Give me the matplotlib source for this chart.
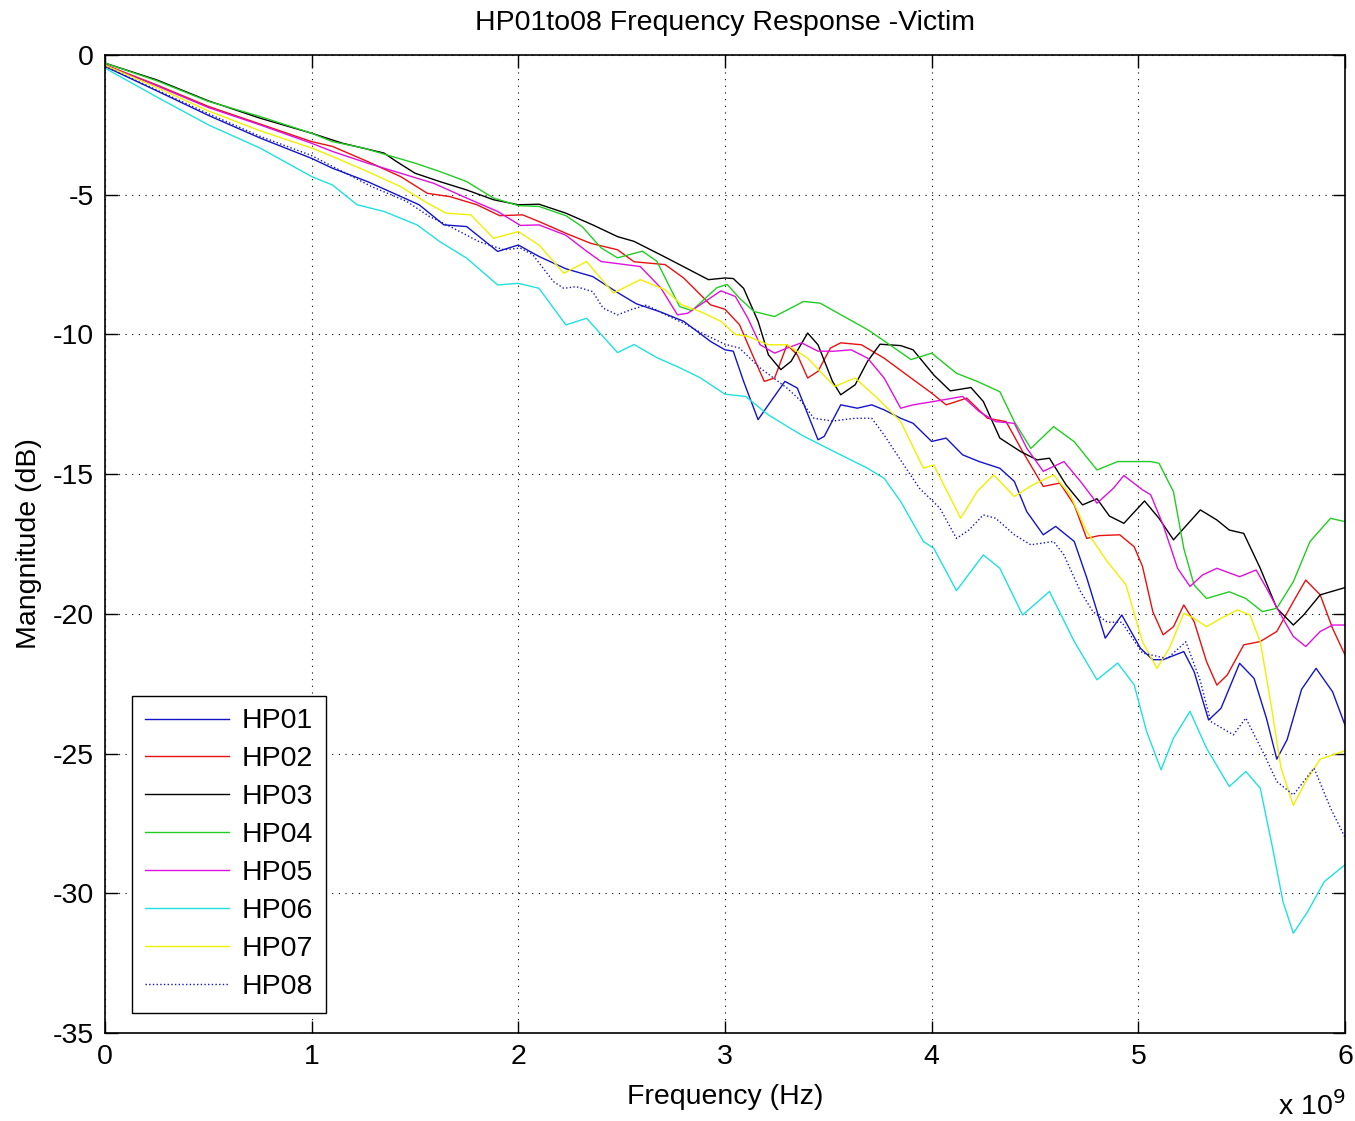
import matplotlib
matplotlib.use("Agg")
import matplotlib.pyplot as plt

plt.rcParams['font.family'] = ['Liberation Sans', 'DejaVu Sans']
plt.rcParams['axes.unicode_minus'] = False

# frequencies in GHz, magnitudes in dB
f_hp01 = [0, 0.25, 0.5, 0.75, 1.0, 1.1, 1.27, 1.43, 1.52, 1.64, 1.75, 1.9, 2.0, 2.1, 2.23, 2.36, 2.48,
          2.57, 2.69, 2.8, 2.93, 3.0, 3.04, 3.09, 3.16, 3.21, 3.29, 3.35, 3.45, 3.48, 3.56, 3.64, 3.71,
          3.77, 3.85, 3.91, 4.0, 4.07, 4.15, 4.23, 4.33, 4.4, 4.46, 4.54, 4.6, 4.69, 4.75, 4.84, 4.92,
          5.01, 5.07, 5.12, 5.22, 5.27, 5.34, 5.4, 5.49, 5.56, 5.62, 5.67, 5.72, 5.79, 5.86, 5.94, 6.0]
m_hp01 = [-0.41, -1.28, -2.16, -2.97, -3.7, -4.05, -4.53, -5.06, -5.36, -6.08, -6.14, -7.03, -6.8, -7.21,
          -7.65, -7.93, -8.5, -8.9, -9.2, -9.53, -10.25, -10.55, -10.6, -11.68, -13.05, -12.52, -11.68,
          -11.92, -13.77, -13.65, -12.52, -12.64, -12.52, -12.7, -13.0, -13.18, -13.83, -13.71, -14.31,
          -14.55, -14.79, -15.26, -16.34, -17.17, -16.87, -17.41, -18.7, -20.87, -20.04, -21.23, -21.64,
          -21.64, -21.35, -22.07, -23.8, -23.38, -21.77, -22.31, -23.74, -25.2, -24.5, -22.7, -21.95,
          -22.79, -23.98]

f_hp02 = [0, 0.25, 0.5, 0.75, 1.0, 1.1, 1.27, 1.43, 1.56, 1.67, 1.8, 1.91, 2.02, 2.1, 2.23, 2.35, 2.48,
          2.56, 2.71, 2.8, 2.93, 3.0, 3.07, 3.14, 3.19, 3.24, 3.3, 3.35, 3.4, 3.45, 3.51, 3.56, 3.66,
          3.77, 3.9, 4.0, 4.07, 4.17, 4.27, 4.36, 4.44, 4.54, 4.62, 4.69, 4.75, 4.81, 4.91, 4.98, 5.02,
          5.07, 5.12, 5.17, 5.22, 5.27, 5.33, 5.38, 5.43, 5.51, 5.59, 5.67, 5.75, 5.81, 5.88, 5.94, 6.0]
m_hp02 = [-0.35, -1.07, -1.84, -2.47, -3.1, -3.27, -3.81, -4.35, -4.95, -5.07, -5.36, -5.75, -5.72, -5.96,
          -6.38, -6.74, -6.97, -7.4, -7.5, -7.98, -8.94, -9.1, -9.65, -10.85, -11.68, -11.56, -10.37,
          -10.73, -11.56, -11.32, -10.49, -10.3, -10.37, -10.85, -11.56, -12.1, -12.52, -12.28, -13.0,
          -13.12, -14.19, -15.44, -15.32, -16.1, -17.3, -17.2, -17.17, -17.6, -18.3, -19.92, -20.75,
          -20.46, -19.68, -20.28, -21.71, -22.55, -22.19, -21.11, -20.99, -20.63, -19.56, -18.79,
          -19.32, -20.52, -21.47]

f_hp03 = [0, 0.25, 0.5, 0.75, 1.0, 1.15, 1.35, 1.41, 1.5, 1.62, 1.75, 1.88, 2.0, 2.1, 2.23, 2.36, 2.48,
          2.56, 2.72, 2.92, 3.0, 3.04, 3.09, 3.16, 3.21, 3.27, 3.32, 3.4, 3.45, 3.52, 3.56, 3.63, 3.69,
          3.75, 3.85, 3.91, 4.01, 4.09, 4.19, 4.25, 4.33, 4.43, 4.51, 4.57, 4.65, 4.73, 4.8, 4.86, 4.93,
          5.03, 5.1, 5.17, 5.3, 5.38, 5.44, 5.51, 5.59, 5.67, 5.75, 5.8, 5.88, 6.0]
m_hp03 = [-0.29, -0.89, -1.64, -2.26, -2.8, -3.16, -3.51, -3.81, -4.23, -4.53, -4.83, -5.18, -5.36, -5.34,
          -5.66, -6.08, -6.5, -6.67, -7.27, -8.04, -7.98, -8.0, -8.35, -9.53, -10.73, -11.26, -10.96,
          -9.95, -10.37, -11.68, -12.16, -11.8, -10.96, -10.35, -10.4, -10.55, -11.45, -12.02, -11.9,
          -12.4, -13.71, -14.19, -14.49, -14.43, -15.38, -16.1, -15.88, -16.5, -16.76, -15.96, -16.58,
          -17.35, -16.28, -16.64, -17.0, -17.12, -18.37, -19.8, -20.4, -20.04, -19.32, -19.06]

f_hp04 = [0, 0.25, 0.5, 0.75, 1.0, 1.1, 1.25, 1.5, 1.62, 1.75, 1.88, 2.0, 2.1, 2.23, 2.31, 2.4, 2.48,
          2.6, 2.67, 2.78, 2.84, 2.96, 3.01, 3.07, 3.14, 3.24, 3.38, 3.46, 3.61, 3.69, 3.75, 3.9, 4.0,
          4.12, 4.22, 4.33, 4.4, 4.48, 4.59, 4.69, 4.8, 4.9, 5.06, 5.1, 5.17, 5.22, 5.27, 5.33, 5.44,
          5.52, 5.6, 5.67, 5.75, 5.83, 5.93, 6.0]
m_hp04 = [-0.29, -0.92, -1.66, -2.2, -2.8, -3.1, -3.33, -3.87, -4.17, -4.53, -5.12, -5.39, -5.42, -5.75,
          -6.15, -6.9, -7.26, -7.02, -7.38, -9.0, -9.15, -8.33, -8.21, -8.7, -9.18, -9.36, -8.82, -8.88,
          -9.5, -9.83, -10.13, -10.9, -10.67, -11.39, -11.68, -12.05, -13.12, -14.08, -13.3, -13.84,
          -14.85, -14.55, -14.55, -14.61, -15.63, -17.66, -18.97, -19.45, -19.21, -19.45, -19.92,
          -19.8, -18.85, -17.42, -16.58, -16.7]

f_hp05 = [0, 0.25, 0.5, 0.75, 1.0, 1.1, 1.27, 1.43, 1.59, 1.75, 1.9, 2.01, 2.1, 2.23, 2.33, 2.4, 2.59,
          2.69, 2.77, 2.82, 2.88, 2.98, 3.05, 3.11, 3.17, 3.24, 3.3, 3.37, 3.45, 3.53, 3.61, 3.69, 3.77,
          3.85, 3.91, 4.01, 4.15, 4.23, 4.31, 4.4, 4.46, 4.54, 4.64, 4.72, 4.8, 4.88, 4.93, 5.02, 5.06,
          5.12, 5.19, 5.25, 5.31, 5.38, 5.49, 5.57, 5.62, 5.69, 5.75, 5.81, 5.88, 5.94, 6.0]
m_hp05 = [-0.37, -1.1, -1.88, -2.5, -3.16, -3.45, -3.87, -4.23, -4.59, -5.12, -5.6, -6.1, -6.08, -6.45,
          -7.02, -7.39, -7.57, -8.34, -9.3, -9.24, -8.94, -8.44, -8.64, -9.41, -10.37, -10.67, -10.49,
          -10.3, -10.6, -10.6, -10.55, -10.85, -11.56, -12.64, -12.52, -12.4, -12.22, -12.76, -13.12,
          -13.18, -14.07, -14.9, -14.55, -15.26, -16.04, -15.5, -15.05, -15.56, -15.74, -16.82, -18.37,
          -19.02, -18.61, -18.37, -18.67, -18.43, -19.08, -20.04, -20.81, -21.17, -20.63, -20.4, -20.4]

f_hp06 = [0, 0.25, 0.5, 0.75, 1.0, 1.1, 1.22, 1.35, 1.51, 1.62, 1.75, 1.9, 2.0, 2.1, 2.23, 2.33, 2.48,
          2.56, 2.67, 2.78, 2.88, 3.0, 3.1, 3.21, 3.37, 3.53, 3.69, 3.77, 3.85, 3.96, 4.01, 4.12, 4.25,
          4.33, 4.44, 4.57, 4.69, 4.8, 4.9, 4.98, 5.04, 5.11, 5.17, 5.25, 5.33, 5.44, 5.52, 5.59, 5.65,
          5.7, 5.75, 5.82, 5.9, 6.0]
m_hp06 = [-0.47, -1.5, -2.5, -3.33, -4.35, -4.65, -5.36, -5.6, -6.08, -6.68, -7.27, -8.23, -8.17, -8.35,
          -9.66, -9.42, -10.65, -10.36, -10.83, -11.19, -11.55, -12.14, -12.22, -12.88, -13.6, -14.2,
          -14.79, -15.15, -15.98, -17.41, -17.65, -19.17, -17.89, -18.37, -20.04, -19.2, -20.99, -22.36,
          -21.76, -22.54, -24.21, -25.58, -24.45, -23.49, -24.81, -26.18, -25.64, -26.24, -28.39, -30.3,
          -31.43, -30.65, -29.58, -28.98]

f_hp07 = [0, 0.25, 0.5, 0.75, 1.0, 1.1, 1.27, 1.43, 1.56, 1.65, 1.77, 1.88, 2.0, 2.1, 2.22, 2.33, 2.46,
          2.59, 2.71, 2.79, 2.88, 2.98, 3.05, 3.11, 3.21, 3.3, 3.4, 3.53, 3.63, 3.74, 3.85, 3.96, 4.01,
          4.14, 4.22, 4.3, 4.4, 4.49, 4.59, 4.67, 4.75, 4.85, 4.94, 5.02, 5.09, 5.15, 5.22, 5.27, 5.33,
          5.4, 5.48, 5.54, 5.59, 5.64, 5.69, 5.75, 5.81, 5.88, 6.0]
m_hp07 = [-0.37, -1.16, -2.0, -2.71, -3.33, -3.63, -4.17, -4.71, -5.3, -5.66, -5.72, -6.56, -6.32, -6.8,
          -7.81, -7.39, -8.52, -8.04, -8.4, -8.94, -9.18, -9.53, -10.0, -10.07, -10.37, -10.37, -10.85,
          -11.86, -11.56, -12.3, -13.12, -14.79, -14.67, -16.58, -15.62, -15.03, -15.8, -15.38, -15.03,
          -15.74, -17.05, -18.13, -18.96, -21.0, -21.95, -21.23, -19.98, -20.16, -20.46, -20.16, -19.86,
          -20.04, -20.99, -23.14, -25.5, -26.85, -26.0, -25.2, -24.9]

f_hp08 = [0, 0.25, 0.5, 0.75, 1.0, 1.29, 1.46, 1.57, 1.67, 1.81, 1.93, 2.01, 2.07, 2.17, 2.22, 2.28,
          2.36, 2.41, 2.48, 2.55, 2.62, 2.7, 2.8, 2.9, 3.0, 3.07, 3.17, 3.3, 3.37, 3.43, 3.52, 3.63, 3.71,
          3.77, 3.85, 3.94, 4.04, 4.12, 4.18, 4.25, 4.31, 4.4, 4.48, 4.59, 4.64, 4.72, 4.78, 4.85, 4.92,
          5.02, 5.14, 5.23, 5.3, 5.35, 5.46, 5.52, 5.61, 5.67, 5.75, 5.85, 5.93, 6.0]
m_hp08 = [-0.41, -1.25, -2.1, -2.91, -3.6, -4.71, -5.24, -5.78, -6.14, -6.68, -6.97, -6.91, -7.15, -8.11,
          -8.35, -8.29, -8.47, -9.06, -9.3, -9.1, -8.95, -9.25, -9.6, -10.0, -10.35, -10.49, -11.2,
          -11.92, -12.4, -13.0, -13.1, -13.0, -13.0, -13.6, -14.5, -15.5, -16.22, -17.3, -17.0, -16.46,
          -16.58, -17.17, -17.53, -17.41, -17.89, -19.2, -19.92, -20.3, -20.3, -21.4, -21.6, -21.0,
          -22.4, -23.85, -24.33, -23.73, -25.05, -26.0, -26.48, -25.52, -26.95, -28.0]

labels = ['HP01', 'HP02', 'HP03', 'HP04', 'HP05', 'HP06', 'HP07', 'HP08']
colors = ['#1414c8', '#e81010', 'black', '#22cc22', '#dd10dd', '#20e0e0', '#f0f000', '#1414c8']
styles = ['-', '-', '-', '-', '-', '-', '-', ':']

series = [(f_hp01, m_hp01), (f_hp02, m_hp02), (f_hp03, m_hp03), (f_hp04, m_hp04),
          (f_hp05, m_hp05), (f_hp06, m_hp06), (f_hp07, m_hp07), (f_hp08, m_hp08)]

fs = 20.5

fig = plt.figure(figsize=(13.55, 11.21), dpi=100)
ax = fig.add_axes([105/1355, 1 - 1033/1121, 1240/1355, 978/1121])

for (f, m), lab, c, ls in zip(series, labels, colors, styles):
    ax.plot(f, m, color=c, linestyle=ls, linewidth=1.0, label=lab)

ax.set_xlim(0, 6)
ax.set_ylim(-35, 0)
ax.set_xticks(range(0, 7))
ax.set_yticks(range(-35, 1, 5))
ax.tick_params(direction='in', top=True, right=True, length=9, width=1, labelsize=fs, pad=8)
ax.grid(True, color='black', linestyle=(0, (1, 5)), linewidth=0.8)
for s in ax.spines.values():
    s.set_linewidth(1.2)

ax.set_title('HP01to08 Frequency Response -Victim', fontsize=fs, pad=18)
ax.set_xlabel('Frequency (Hz)', fontsize=fs, labelpad=10)
ax.set_ylabel('Mangnitude (dB)', fontsize=fs, labelpad=8)
fig.text(1345/1355, 1 - 1106/1121, r'x 10$^{9}$', fontsize=fs, ha='right', va='center')

leg = ax.legend(loc='lower left', bbox_to_anchor=(27/1240, 20/978), borderaxespad=0,
                fontsize=fs, handlelength=2.95, handletextpad=0.45, labelspacing=0.42,
                borderpad=0.45, fancybox=False, framealpha=1, edgecolor='black')
leg.get_frame().set_linewidth(1.0)

fig.savefig('out.png', dpi=100)
